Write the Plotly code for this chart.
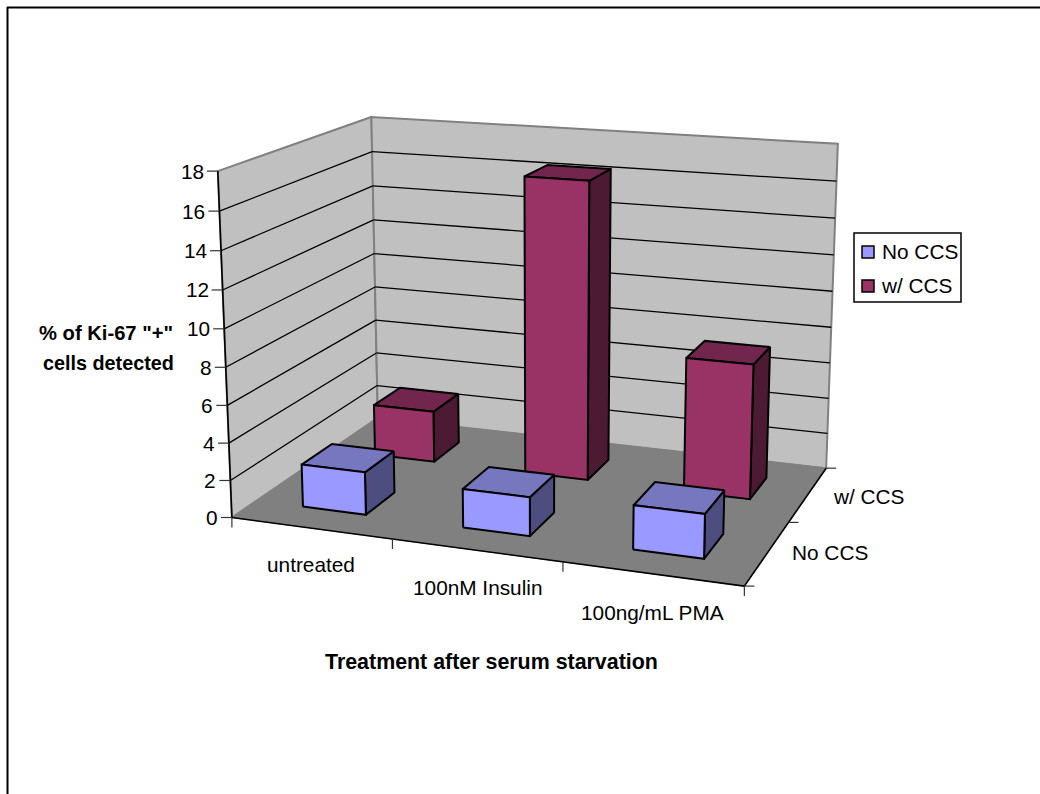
import numpy as np
import plotly.graph_objects as go

# Chart data
categories = ["untreated", "100nM Insulin", "100ng/mL PMA"]
series_names = ["No CCS", "w/ CCS"]
no_ccs = [2.3, 2.05, 2.3]
with_ccs = [2.9, 16.4, 7.35]
value_ticks = [0, 2, 4, 6, 8, 10, 12, 14, 16, 18]

# Box dimensions in world units: categories across, series in depth, values upward
N_CAT, N_SER, Z_MAX = 3, 2, 18
BAR_HALF = 0.2

# Screen positions of known box corners, used to calibrate the 3D camera
calibration = [
    ((0, 0, 0), (232, 517)), ((0, 0, 18), (218, 171)),
    ((0, 2, 18), (371, 117)), ((0, 2, 0), (378, 418)),
    ((3, 2, 0), (826, 468)), ((3, 2, 18), (838, 144)),
    ((3, 0, 0), (744, 586)), ((1, 0, 0), (392, 540)),
    ((2, 0, 0), (563, 562)), ((3, 1, 0), (789, 522)),
    ((0, 0, 8), (226, 367)), ((0, 2, 8), (375, 287)),
]


def solve_camera(pairs):
    rows = []
    for (X, Y, Z), (u, v) in pairs:
        rows.append([X, Y, Z, 1, 0, 0, 0, 0, -u * X, -u * Y, -u * Z, -u])
        rows.append([0, 0, 0, 0, X, Y, Z, 1, -v * X, -v * Y, -v * Z, -v])
    return np.linalg.svd(np.array(rows, float))[2][-1].reshape(3, 4)


CAMERA = solve_camera(calibration)


def project(x, y, z):
    p = CAMERA @ np.array([x, y, z, 1.0])
    return float(p[0] / p[2]), float(p[1] / p[2])


def polygon_trace(corner_groups, fill, line, width, name=None):
    xs, ys = [], []
    for corners in corner_groups:
        pts = [project(*c) for c in corners]
        pts.append(pts[0])
        xs += [p[0] for p in pts] + [None]
        ys += [p[1] for p in pts] + [None]
    return go.Scatter(x=xs, y=ys, mode="lines", fill="toself", fillcolor=fill,
                      line=dict(color=line, width=width), hoverinfo="skip",
                      showlegend=False, name=name)


def segment_trace(segments, color, width):
    xs, ys = [], []
    for a, b in segments:
        pa, pb = project(*a), project(*b)
        xs += [pa[0], pb[0], None]
        ys += [pa[1], pb[1], None]
    return go.Scatter(x=xs, y=ys, mode="lines", line=dict(color=color, width=width),
                      hoverinfo="skip", showlegend=False)


fig = go.Figure()

# Walls and floor
fig.add_trace(polygon_trace([[(0, 0, 0), (0, 2, 0), (0, 2, 18), (0, 0, 18)]], "#C0C0C0", "#808080", 2))
fig.add_trace(polygon_trace([[(0, 2, 0), (3, 2, 0), (3, 2, 18), (0, 2, 18)]], "#C0C0C0", "#808080", 2))
fig.add_trace(polygon_trace([[(0, 0, 0), (3, 0, 0), (3, 2, 0), (0, 2, 0)]], "#808080", "#808080", 1))

# Gridlines on both walls
grid = []
for v in value_ticks[1:-1]:
    grid.append(((0, 0, v), (0, 2, v)))
    grid.append(((0, 2, v), (3, 2, v)))
fig.add_trace(segment_trace(grid, "#000000", 1.3))

# Axis lines and tick marks
axis_lines = [((0, 0, 0), (0, 0, 18)), ((0, 0, 0), (3, 0, 0)), ((3, 0, 0), (3, 2, 0))]
fig.add_trace(segment_trace(axis_lines, "#000000", 1.6))


def offset_segments(points, dx, dy):
    xs, ys = [], []
    for pt in points:
        u, v = project(*pt)
        xs += [u, u + dx, None]
        ys += [v, v + dy, None]
    return go.Scatter(x=xs, y=ys, mode="lines", line=dict(color="#333333", width=1.2),
                      hoverinfo="skip", showlegend=False)


fig.add_trace(offset_segments([(0, 0, v) for v in value_ticks], -11, 0))
fig.add_trace(offset_segments([(i, 0, 0) for i in range(N_CAT + 1)], 0, 10))
fig.add_trace(offset_segments([(3, j, 0) for j in range(N_SER + 1)], 10, 0))


def bar_faces(values, row):
    front, top, side = [], [], []
    y0, y1 = row + 0.5 - BAR_HALF, row + 0.5 + BAR_HALF
    for i, v in enumerate(values):
        x0, x1 = i + 0.5 - BAR_HALF, i + 0.5 + BAR_HALF
        front.append([(x0, y0, 0), (x1, y0, 0), (x1, y0, v), (x0, y0, v)])
        top.append([(x0, y0, v), (x1, y0, v), (x1, y1, v), (x0, y1, v)])
        side.append([(x1, y0, 0), (x1, y1, 0), (x1, y1, v), (x1, y0, v)])
    return front, top, side


# Bars, back row first so the front row covers it
shades = {
    0: ("#9999FF", "#7777BF", "#4D4D80"),
    1: ("#993366", "#73264D", "#4D1A33"),
}
for row, values in ((1, with_ccs), (0, no_ccs)):
    front, top, side = bar_faces(values, row)
    c_front, c_top, c_side = shades[row]
    fig.add_trace(polygon_trace(side, c_side, "#000000", 2, series_names[row]))
    fig.add_trace(polygon_trace(top, c_top, "#000000", 2, series_names[row]))
    fig.add_trace(polygon_trace(front, c_front, "#000000", 2, series_names[row]))

FONT = "Liberation Sans, Arial, sans-serif"
TICK_SIZE = 20.8
annotations = []


def label(x, y, text, size=TICK_SIZE, anchor="center", bold=False):
    annotations.append(dict(x=x, y=y, xref="x", yref="y", text=f"<b>{text}</b>" if bold else text,
                            showarrow=False, xanchor=anchor, yanchor="middle", align="center",
                            font=dict(family=FONT, size=size, color="#000000")))


for v in value_ticks:
    u, w = project(0, 0, v)
    label(u - 12, w, str(v), anchor="right")

for name, (u, w) in zip(categories, [(311, 564), (477, 587), (652, 612)]):
    label(u, w, name)
for name, (u, w) in zip(series_names, [(830, 552), (868, 496)]):
    label(u, w, name)

label(491, 662, "Treatment after serum starvation", size=21.4, bold=True)
label(106, 333, '% of Ki-67 "+"', size=20.2, bold=True)
label(108, 363, "cells detected", size=19.8, bold=True)

# Outer frame, legend box and swatches
shapes = [
    dict(type="line", xref="x", yref="y", x0=7.5, y0=7, x1=7.5, y1=794, line=dict(color="#000000", width=2)),
    dict(type="line", xref="x", yref="y", x0=7, y0=7.5, x1=1040, y1=7.5, line=dict(color="#000000", width=2)),
    dict(type="rect", xref="x", yref="y", x0=854, y0=233, x1=961, y1=302,
         line=dict(color="#000000", width=1.5), fillcolor="#FFFFFF", layer="above"),
    dict(type="rect", xref="x", yref="y", x0=862, y0=246, x1=874, y1=258,
         line=dict(color="#000000", width=1.5), fillcolor=shades[0][0], layer="above"),
    dict(type="rect", xref="x", yref="y", x0=862, y0=280, x1=874, y1=292,
         line=dict(color="#000000", width=1.5), fillcolor=shades[1][0], layer="above"),
]
label(880, 251, series_names[0], anchor="left")
label(879, 285, series_names[1], anchor="left")

fig.update_layout(
    width=1040, height=794, margin=dict(l=0, r=0, t=0, b=0),
    paper_bgcolor="#FFFFFF", plot_bgcolor="#FFFFFF", showlegend=False,
    xaxis=dict(range=[0, 1040], visible=False, fixedrange=True),
    yaxis=dict(range=[794, 0], visible=False, fixedrange=True),
    annotations=annotations, shapes=shapes,
)

fig.write_html("out.html")
